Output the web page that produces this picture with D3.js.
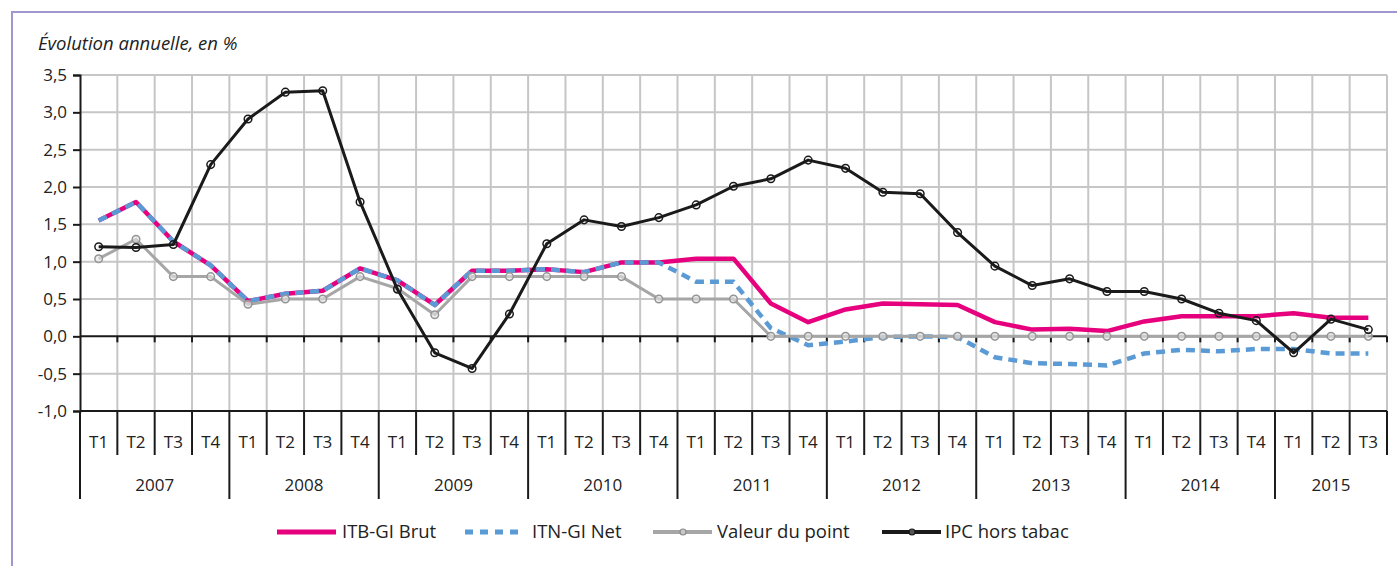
<!DOCTYPE html>
<html>
<head>
<meta charset="utf-8">
<script src="https://cdn.jsdelivr.net/npm/d3@7"></script>
<style>
  body { margin: 0; background: #fff; }
  svg { display: block; font-family: "Open Sans", "Noto Sans", sans-serif; }
</style>
</head>
<body>
<div id="chart"></div>
<script>
// data
var years = ["2007", "2008", "2009", "2010", "2011", "2012", "2013", "2014", "2015"];
var quarters = ["T1", "T2", "T3", "T4"];
var yTicks = [-1.0, -0.5, 0.0, 0.5, 1.0, 1.5, 2.0, 2.5, 3.0, 3.5];

var itbBrut = [1.55, 1.80, 1.27, 0.95, 0.47, 0.57, 0.61, 0.91, 0.75, 0.42, 0.88, 0.88,
               0.90, 0.86, 0.99, 0.99, 1.04, 1.04, 0.44, 0.19, 0.36, 0.44, 0.43, 0.42,
               0.19, 0.09, 0.10, 0.07, 0.20, 0.27, 0.27, 0.27, 0.31, 0.25, 0.25];
var itnNet  = [1.55, 1.80, 1.27, 0.95, 0.47, 0.57, 0.61, 0.91, 0.75, 0.42, 0.88, 0.88,
               0.90, 0.86, 0.99, 0.99, 0.73, 0.73, 0.11, -0.12, -0.07, -0.01, 0.00, -0.01,
               -0.28, -0.36, -0.37, -0.39, -0.23, -0.18, -0.20, -0.17, -0.17, -0.23, -0.23];
var valeurPoint = [1.04, 1.30, 0.80, 0.80, 0.43, 0.50, 0.50, 0.80, 0.64, 0.29, 0.80, 0.80,
                   0.80, 0.80, 0.80, 0.50, 0.50, 0.50, 0.00, 0.00, 0.00, 0.00, 0.00, 0.00,
                   0.00, 0.00, 0.00, 0.00, 0.00, 0.00, 0.00, 0.00, 0.00, 0.00, 0.00];
var ipc = [1.20, 1.19, 1.23, 2.30, 2.91, 3.27, 3.29, 1.80, 0.63, -0.22, -0.43, 0.30,
           1.24, 1.56, 1.47, 1.59, 1.76, 2.01, 2.11, 2.36, 2.25, 1.93, 1.91, 1.39,
           0.94, 0.68, 0.77, 0.60, 0.60, 0.50, 0.31, 0.21, -0.22, 0.23, 0.09];

// build the 35 quarter keys
var cats = [];
years.forEach(function(y) {
  quarters.forEach(function(q) {
    if (cats.length < ipc.length) cats.push({ key: y + "-" + q, year: y, q: q });
  });
});

var W = 1397, H = 566;
var margin = { top: 75, left: 80, right: 10 };
var plotW = 1387 - margin.left;
var plotBottom = 411;

var svg = d3.select("#chart").append("svg")
  .attr("width", W).attr("height", H);

// frame
svg.append("path")
  .attr("d", "M12," + H + "V12H" + W)
  .attr("fill", "none")
  .attr("stroke", "#9f98cf")
  .attr("stroke-width", 2);

svg.append("text")
  .attr("x", 38).attr("y", 50)
  .attr("font-size", 18.5)
  .attr("font-style", "italic")
  .attr("fill", "#222")
  .text("Évolution annuelle, en %");

var x = d3.scaleBand()
  .domain(cats.map(function(d) { return d.key; }))
  .range([margin.left, margin.left + plotW])
  .padding(0);

var y = d3.scaleLinear()
  .domain([-1, 3.5])
  .range([plotBottom, margin.top]);

var g = svg.append("g");

// horizontal grid
g.selectAll(".hgrid")
  .data(yTicks.filter(function(t) { return t !== 0 && t !== -1; }))
  .enter().append("line")
  .attr("x1", margin.left).attr("x2", margin.left + plotW)
  .attr("y1", function(d) { return y(d); })
  .attr("y2", function(d) { return y(d); })
  .attr("stroke", "#c6c6c6").attr("stroke-width", 2);

// vertical grid at category boundaries
var bounds = cats.map(function(d) { return x(d.key); }).concat([margin.left + plotW]);
g.selectAll(".vgrid")
  .data(bounds.slice(1))
  .enter().append("line")
  .attr("x1", function(d) { return d; }).attr("x2", function(d) { return d; })
  .attr("y1", y(3.5)).attr("y2", plotBottom)
  .attr("stroke", "#c6c6c6").attr("stroke-width", 2);

// zero line with ticks
g.append("line")
  .attr("x1", margin.left).attr("x2", margin.left + plotW)
  .attr("y1", y(0)).attr("y2", y(0))
  .attr("stroke", "#1a1a1a").attr("stroke-width", 2);
g.selectAll(".ztick")
  .data(bounds.slice(1))
  .enter().append("line")
  .attr("x1", function(d) { return d; }).attr("x2", function(d) { return d; })
  .attr("y1", y(0)).attr("y2", y(0) + 6)
  .attr("stroke", "#1a1a1a").attr("stroke-width", 2);

// y axis
var yAxis = g.append("g")
  .attr("transform", "translate(" + margin.left + ",0)")
  .call(d3.axisLeft(y).tickValues(yTicks).tickSize(7).tickPadding(6)
    .tickFormat(function(d) { return d3.format(".1f")(d).replace(".", ",").replace("\u2212", "-"); }));
yAxis.select(".domain").attr("stroke", "#1a1a1a").attr("stroke-width", 2);
yAxis.selectAll(".tick line").attr("stroke", "#1a1a1a").attr("stroke-width", 2);
yAxis.selectAll("text").attr("font-size", 17).attr("fill", "#222")
  .attr("font-family", "Open Sans, sans-serif");

// bottom category axis
g.append("line")
  .attr("x1", margin.left).attr("x2", margin.left + plotW)
  .attr("y1", plotBottom).attr("y2", plotBottom)
  .attr("stroke", "#1a1a1a").attr("stroke-width", 2);

g.selectAll(".qsep")
  .data(cats.map(function(d, i) { return i; }).concat([cats.length]))
  .enter().append("line")
  .attr("x1", function(i) { return i < cats.length ? x(cats[i].key) : margin.left + plotW; })
  .attr("x2", function(i) { return i < cats.length ? x(cats[i].key) : margin.left + plotW; })
  .attr("y1", plotBottom)
  .attr("y2", function(i) { return (i < cats.length && cats[i].q === "T1") ? 499 : 455; })
  .attr("stroke", "#1a1a1a").attr("stroke-width", 2);

g.selectAll(".qlab")
  .data(cats)
  .enter().append("text")
  .attr("x", function(d) { return x(d.key) + x.bandwidth() / 2; })
  .attr("y", 448)
  .attr("text-anchor", "middle")
  .attr("font-size", 17).attr("fill", "#222")
  .text(function(d) { return d.q; });

g.selectAll(".ylab")
  .data(years)
  .enter().append("text")
  .attr("x", function(yr) {
    var qs = cats.filter(function(c) { return c.year === yr; });
    var x0 = x(qs[0].key), x1 = x(qs[qs.length - 1].key) + x.bandwidth();
    return (x0 + x1) / 2;
  })
  .attr("y", 491)
  .attr("text-anchor", "middle")
  .attr("font-size", 17).attr("fill", "#222")
  .text(function(d) { return d; });

// series
var cx = function(d, i) { return x(cats[i].key) + x.bandwidth() / 2; };
var line = d3.line().x(cx).y(function(d) { return y(d); });

g.append("path").datum(itbBrut)
  .attr("d", line).attr("fill", "none")
  .attr("stroke", "#e6007e").attr("stroke-width", 4.5)
  .attr("stroke-linejoin", "round");

g.append("path").datum(itnNet)
  .attr("d", line).attr("fill", "none")
  .attr("stroke", "#5b9bd5").attr("stroke-width", 4.5)
  .attr("stroke-dasharray", "9,6");

g.append("path").datum(valeurPoint)
  .attr("d", line).attr("fill", "none")
  .attr("stroke", "#a6a6a6").attr("stroke-width", 3)
  .attr("stroke-linejoin", "round");
g.selectAll(".vp")
  .data(valeurPoint)
  .enter().append("circle")
  .attr("cx", cx).attr("cy", function(d) { return y(d); })
  .attr("r", 3.8)
  .attr("fill", "#e4e4e4").attr("fill-opacity", 0.6)
  .attr("stroke", "#959595").attr("stroke-width", 1.5);

g.append("path").datum(ipc)
  .attr("d", line).attr("fill", "none")
  .attr("stroke", "#1a1a1a").attr("stroke-width", 3)
  .attr("stroke-linejoin", "round");
g.selectAll(".ipc")
  .data(ipc)
  .enter().append("circle")
  .attr("cx", cx).attr("cy", function(d) { return y(d); })
  .attr("r", 3.8)
  .attr("fill", "none")
  .attr("stroke", "#1a1a1a").attr("stroke-width", 1.5);

// legend
var legend = [
  { name: "ITB-GI Brut", color: "#e6007e", w: 5, dash: null, marker: false, x0: 277, tx: 342 },
  { name: "ITN-GI Net", color: "#5b9bd5", w: 5, dash: "8,7", marker: false, x0: 465, tx: 532 },
  { name: "Valeur du point", color: "#a6a6a6", w: 4, dash: null, marker: true, x0: 653, tx: 717 },
  { name: "IPC hors tabac", color: "#1a1a1a", w: 4, dash: null, marker: true, x0: 882, tx: 945 }
];
var ly = 532;
var lg = svg.append("g").selectAll("g").data(legend).enter().append("g");
lg.append("line")
  .attr("x1", function(d) { return d.x0; })
  .attr("x2", function(d) { return d.x0 + 59; })
  .attr("y1", ly).attr("y2", ly)
  .attr("stroke", function(d) { return d.color; })
  .attr("stroke-width", function(d) { return d.w; })
  .attr("stroke-dasharray", function(d) { return d.dash; });
lg.filter(function(d) { return d.marker; }).append("circle")
  .attr("cx", function(d) { return d.x0 + 30; })
  .attr("cy", ly).attr("r", 3)
  .attr("fill", function(d) { return d.color === "#1a1a1a" ? "#555" : "#c8c8c8"; })
  .attr("stroke", function(d) { return d.color === "#1a1a1a" ? "#1a1a1a" : "#8a8a8a"; })
  .attr("stroke-width", 1.2);
lg.append("text")
  .attr("x", function(d) { return d.tx; })
  .attr("y", ly + 6)
  .attr("font-size", 18.5).attr("fill", "#222")
  .text(function(d) { return d.name; });
</script>
</body>
</html>
